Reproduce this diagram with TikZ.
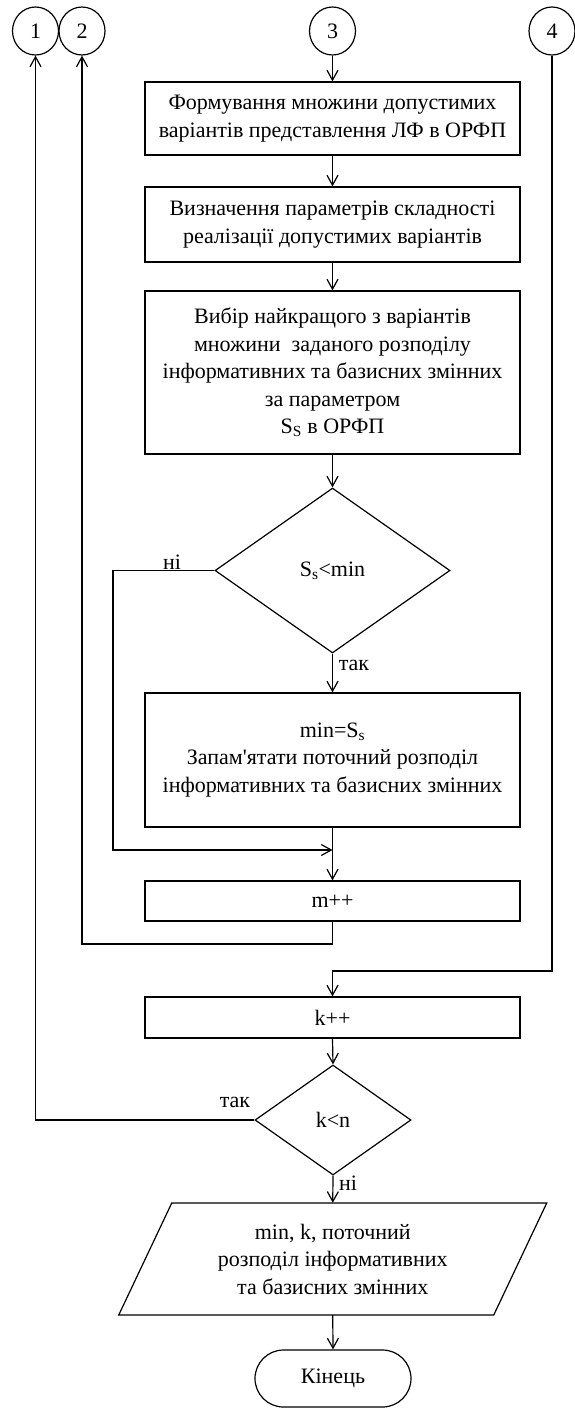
\documentclass[tikz,border=0pt]{standalone}
\usepackage{fontspec}
\setmainfont{Liberation Serif}
\usetikzlibrary{arrows.meta,shapes.geometric,shapes.misc}
\begin{document}
\begin{tikzpicture}[x=1pt,y=-1pt,
  every node/.style={font=\fontsize{22}{27.5}\selectfont, inner sep=0pt},
  ln/.style={line width=1.2pt, line join=miter},
  arr/.style={ln, -{Straight Barb[length=10pt,width=11pt,line width=1.2pt]}},
  conn/.style={ln, draw, shape=ellipse, minimum width=46pt, minimum height=48pt},
  procbox/.style={ln, draw, rectangle, minimum width=375pt, align=center},
  decis/.style={ln, draw, shape=diamond},
  lbl/.style={}]
\useasboundingbox (0,0) rectangle (575,1408);
% connectors
\node[conn] (c1) at (35.5,31) {1};
\node[conn] (c2) at (82,31) {2};
\node[conn] (c3) at (332.5,31) {3};
\node[conn] (c4) at (552,31) {4};
% boxes
\node[procbox, minimum height=73pt] (b1) at (332.5,118.5) {Формування множини допустимих\\варіантів представлення ЛФ в ОРФП};
\node[procbox, minimum height=75pt] (b2) at (332.5,224.5) {Визначення параметрів складності\\реалізації допустимих варіантів};
\node[procbox, minimum height=163pt] (b3) at (332.5,372.5) {Вибір найкращого з варіантів\\множини\ \ заданого розподілу\\інформативних та базисних змінних\\за параметром\\S\textsubscript{S} в ОРФП};
\node[decis, minimum width=235pt, minimum height=165pt] (d1) at (332.5,570.5) {S\textsubscript{s}<min};
\node[procbox, minimum height=134pt] (b4) at (332.5,760) {min=S\textsubscript{s}\\Запам\textquotesingle ятати поточний розподіл\\інформативних та базисних змінних};
\node[procbox, minimum height=40pt] (b5) at (332.5,901) {m++};
\node[procbox, minimum height=41pt] (b6) at (332.5,1017.5) {k++};
\node[decis, minimum width=156pt, minimum height=110pt] (d2) at (333,1120) {k<n};
\node[align=center, minimum width=375pt, minimum height=112pt] (p) at (332.75,1259) {min, k, поточний\\розподіл інформативних\\та базисних змінних};
\draw[ln] (171.75,1203) -- (546.75,1203) -- (493.75,1315) -- (118.75,1315) -- cycle;
\node[ln, draw, rounded rectangle, minimum width=156pt, minimum height=57pt] (t) at (333,1378.5) {Кінець};
% labels
\node[lbl] (l1) at (172,562) {ні};
\node[lbl] (l2) at (354,665) {так};
\node[lbl] (l3) at (235,1102) {так};
\node[lbl] (l4) at (348,1183) {ні};
% coordinates
\coordinate (merge) at (332.5,850);
\coordinate (lx1) at (113,570.5);
\coordinate (lb2) at (332.5,944);
\coordinate (lx2) at (82,944);
\coordinate (r4) at (552,971);
\coordinate (r4b) at (332.5,971);
\coordinate (lx3) at (35.5,1120);
% arrows
\draw[arr] (c3) -- (b1);
\draw[arr] (b1) -- (b2);
\draw[arr] (b2) -- (b3);
\draw[arr] (b3) -- (d1);
\draw[arr] (d1.south) -- (b4.north);
\draw[arr] (d1.west) -- (lx1) |- (merge);
\draw[arr] (b4.south) -- (b5.north);
\draw[arr] (b5.south) -- (lb2) -- (lx2) -- (c2.south);
\draw[arr] (c4.south) -- (r4) -- (r4b) -- (b6.north);
\draw[arr] (b6.south) -- (d2.north);
\draw[arr] (d2.west) -- (lx3) -- (c1.south);
\draw[arr] (d2.south) -- (p.north);
\draw[arr] (p.south) -- (t.north);
\end{tikzpicture}
\end{document}
